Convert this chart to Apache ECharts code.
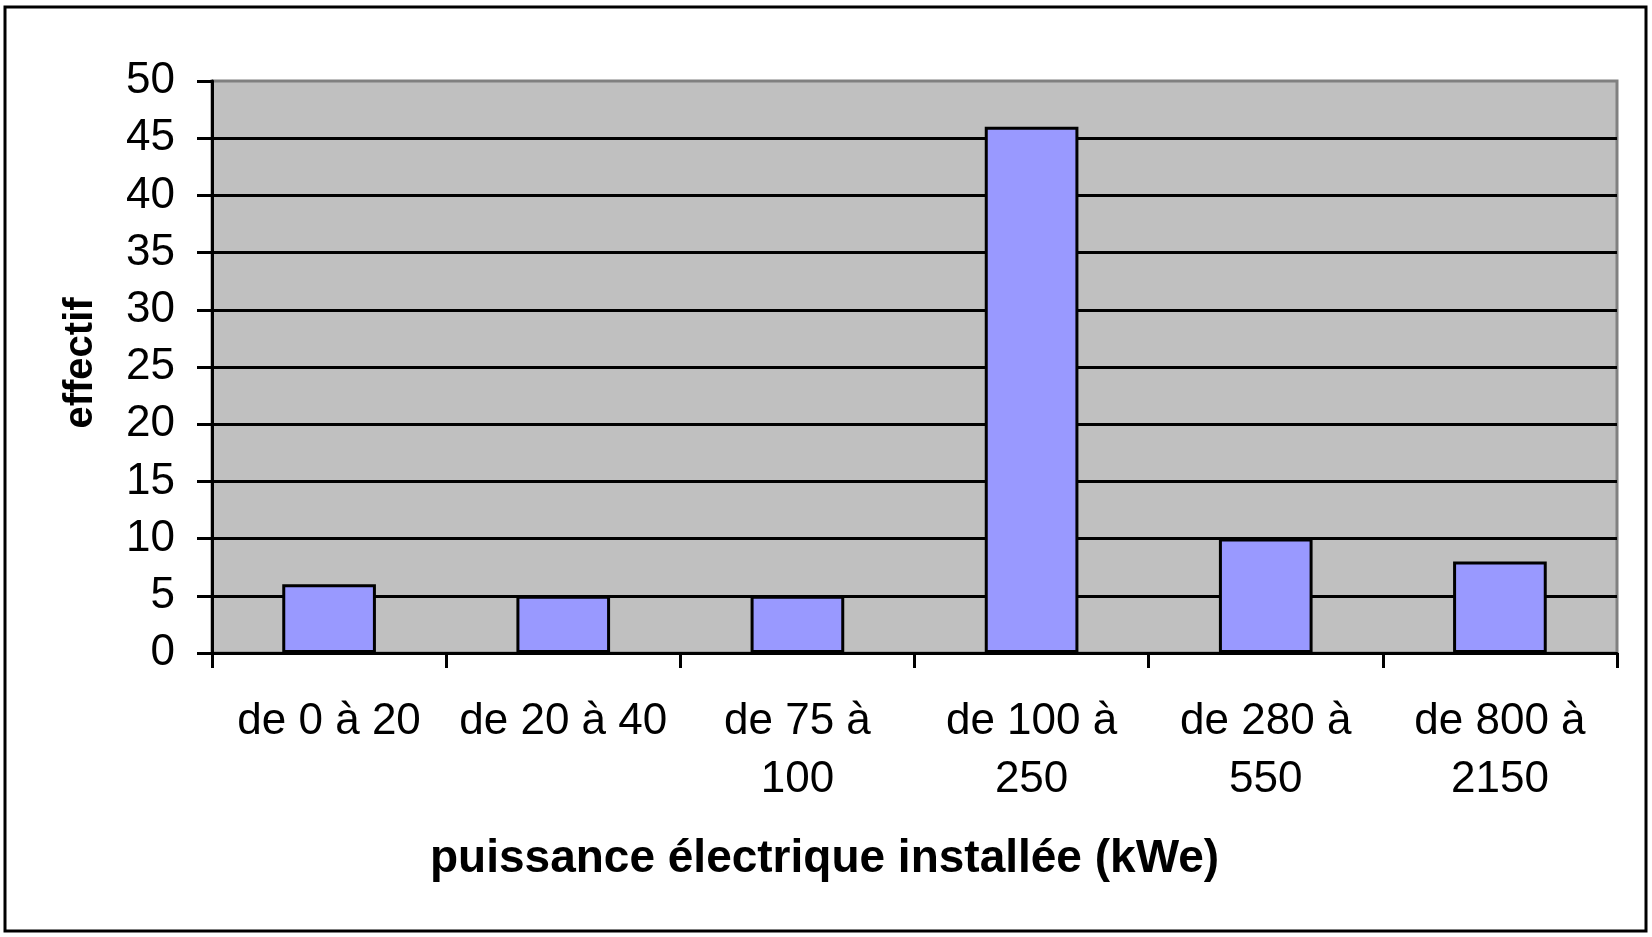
<!DOCTYPE html>
<html>
<head>
<meta charset="utf-8">
<title>effectif par puissance</title>
<script src="https://cdn.jsdelivr.net/npm/echarts@6/dist/echarts.min.js"></script>
<style>
    html, body { margin: 0; padding: 0; background: #fff; }
    #chart { width: 1652px; height: 937px; }
</style>
</head>
<body>
<div id="chart"></div>
<script>
// classes de puissance (kWe)
var categories = ['de 0 à 20', 'de 20 à 40', 'de 75 à\n100', 'de 100 à\n250', 'de 280 à\n550', 'de 800 à\n2150'];
// effectif par classe
var effectifs = [6, 5, 5, 46, 10, 8];
var yMin = 0;
var yMax = 50;
var yStep = 5;

var font = 'Arial, "Liberation Sans", sans-serif';

var myChart = echarts.init(document.getElementById('chart'));

var option = {
    backgroundColor: '#ffffff',
    animation: false,
    title: {
        text: 'puissance électrique installée (kWe)',
        left: 425,
        top: 831,
        textStyle: {
            fontFamily: font,
            fontSize: 46,
            fontWeight: 'bold',
            color: '#000'
        }
    },
    graphic: [
        {
            type: 'rect',
            shape: { x: 5, y: 7, width: 1641, height: 924 },
            style: { fill: 'none', stroke: '#000', lineWidth: 3 },
            z: 100
        }
    ],
    grid: {
        left: 212,
        right: 35,
        top: 81,
        bottom: 284,
        show: true,
        backgroundColor: '#C0C0C0',
        borderColor: '#808080',
        borderWidth: 3
    },
    xAxis: {
        type: 'category',
        data: categories,
        axisLine: { lineStyle: { color: '#000', width: 3 } },
        axisTick: { show: true, length: 15, lineStyle: { color: '#000', width: 3 } },
        axisLabel: {
            interval: 0,
            margin: 40,
            fontFamily: font,
            fontSize: 44,
            lineHeight: 58,
            color: '#000'
        },
        splitLine: { show: false }
    },
    yAxis: {
        type: 'value',
        min: yMin,
        max: yMax,
        interval: yStep,
        name: 'effectif',
        nameLocation: 'middle',
        nameRotate: 90,
        nameGap: 111,
        nameTextStyle: {
            fontFamily: font,
            fontSize: 40,
            fontWeight: 'bold',
            color: '#000',
            padding: [0, 0, 0, 8]
        },
        axisLine: { show: true, lineStyle: { color: '#000', width: 3 } },
        axisTick: { show: true, length: 15, lineStyle: { color: '#000', width: 3 } },
        axisLabel: {
            margin: 37,
            fontFamily: font,
            fontSize: 44,
            color: '#000'
        },
        splitLine: { show: true, showMaxLine: false, lineStyle: { color: '#000', width: 3 } }
    },
    series: [
        {
            type: 'bar',
            data: effectifs,
            barWidth: '40%',
            itemStyle: {
                color: '#9999FF',
                borderColor: '#000',
                borderWidth: 3
            }
        }
    ]
};

myChart.setOption(option);
</script>
</body>
</html>
